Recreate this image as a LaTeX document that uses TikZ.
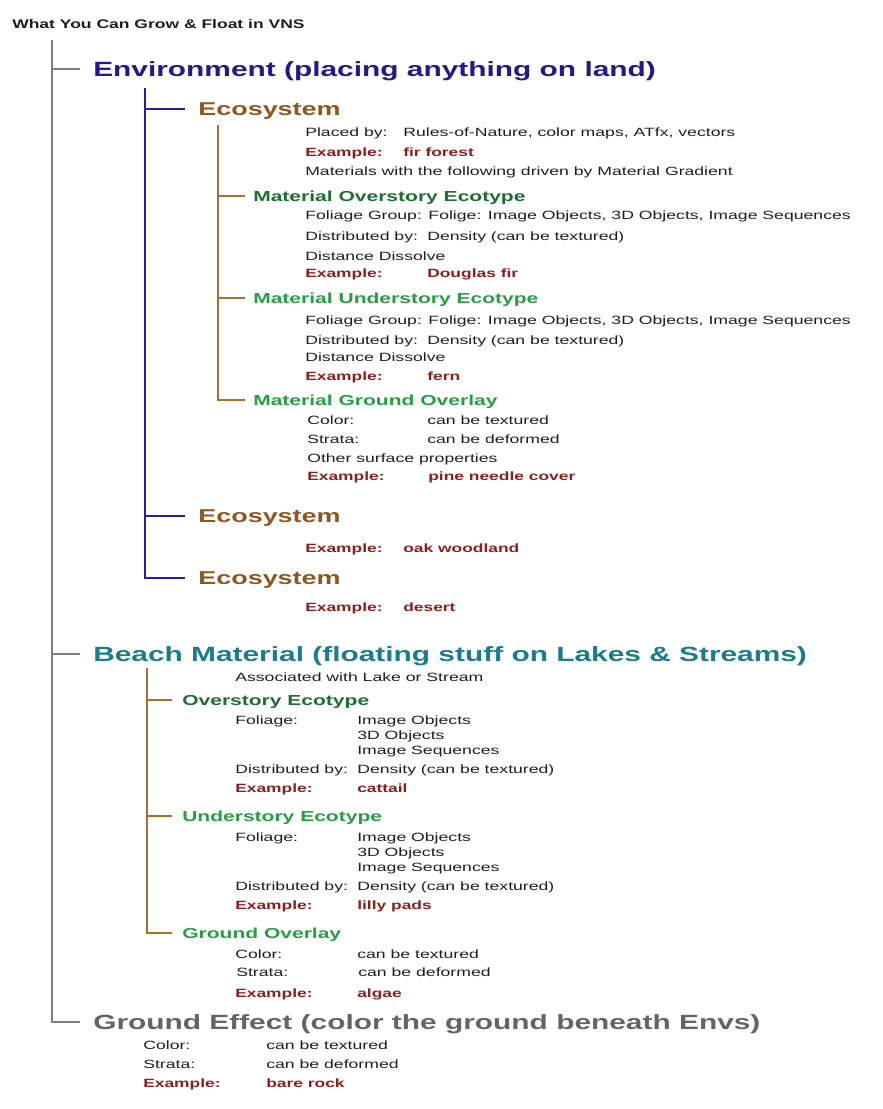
\documentclass[tikz,border=0pt]{standalone}
\usepackage{fontspec}
\setmainfont{Liberation Sans}
\definecolor{ink}{RGB}{30,30,30}
\definecolor{envblue}{RGB}{38,24,140}
\definecolor{lineblue}{RGB}{40,28,160}
\definecolor{ecobrown}{RGB}{140,88,30}
\definecolor{linebrown}{RGB}{170,112,45}
\definecolor{dkgreen}{RGB}{28,110,48}
\definecolor{ltgreen}{RGB}{38,158,68}
\definecolor{exred}{RGB}{140,30,30}
\definecolor{teal}{RGB}{26,124,140}
\definecolor{gtext}{RGB}{100,100,100}
\definecolor{gline}{RGB}{125,125,125}
\tikzset{
  txt/.style={anchor=west, inner sep=0pt, xscale=1.47, text=ink, text height=8.6pt, text depth=0pt,
    font=\fontsize{12}{14}\selectfont},
  ex/.style={txt, xscale=1.45/1.47, text=exred, font=\fontsize{12}{14}\selectfont\bfseries},
  head/.style={txt, xscale=1.45/1.47, text height=14.8pt, font=\fontsize{20.6}{24}\selectfont\bfseries},
  eco/.style={txt, xscale=1.45/1.47, text=ecobrown, text height=13.3pt, font=\fontsize{18.6}{22}\selectfont\bfseries},
  ecotype/.style={txt, xscale=1.45/1.47, text height=10.4pt, font=\fontsize{14.5}{17}\selectfont\bfseries},
  grayline/.style={draw=gline, line width=2.3pt},
  blueline/.style={draw=lineblue, line width=2.5pt},
  brownline/.style={draw=linebrown, line width=2pt}
}
\begin{document}
\begin{tikzpicture}[x=1pt,y=-1pt]
\useasboundingbox (0,0) rectangle (883,1109);
% title and main trunk
\node[txt, xscale=1.4/1.47, text height=9pt, font=\fontsize{12.5}{15}\selectfont\bfseries] (title) at (12,24) {What You Can Grow \& Float in VNS};
\coordinate (trunk) at (52,40);
\node[head, text=envblue] (env) at (93,69) {Environment (placing anything on land)};
\node[head, text=teal] (beach) at (93,654) {Beach Material (floating stuff on Lakes \& Streams)};
\node[head, text=gtext] (ground) at (93,1022) {Ground Effect (color the ground beneath Envs)};
\draw[grayline] (trunk) |- ([xshift=-13pt]ground.west);
\draw[grayline] (trunk |- env.west) -- ([xshift=-13pt]env.west);
\draw[grayline] (trunk |- beach.west) -- ([xshift=-13pt]beach.west);

% environment
\coordinate (envtrunk) at (145,88);
\node[eco] (eco1) at (198,109) {Ecosystem};
\node[eco] (eco2) at (198,516) {Ecosystem};
\node[eco] (eco3) at (198,578) {Ecosystem};
\draw[blueline] (envtrunk) |- ([xshift=-13pt]eco3.west);
\draw[blueline] (envtrunk |- eco1.west) -- ([xshift=-13pt]eco1.west);
\draw[blueline] (envtrunk |- eco2.west) -- ([xshift=-13pt]eco2.west);

\node[txt] (placed) at (305,132) {Placed by:};
\node[txt] (placedv) at (403,132) {Rules-of-Nature, color maps, ATfx, vectors};
\node[ex] (ex1) at (305,152) {Example:};
\node[ex] (ex1v) at (403,152) {fir forest};
\node[txt] (matl) at (305,171) {Materials with the following driven by Material Gradient};

\coordinate (ecotrunk) at (218,125);
\node[ecotype, text=dkgreen] (movr) at (253,196) {Material Overstory Ecotype};
\node[ecotype, text=ltgreen] (mund) at (253,298) {Material Understory Ecotype};
\node[ecotype, text=ltgreen] (mgnd) at (253,400) {Material Ground Overlay};
\draw[brownline] (ecotrunk) |- ([xshift=-8pt]mgnd.west);
\draw[brownline] (ecotrunk |- movr.west) -- ([xshift=-8pt]movr.west);
\draw[brownline] (ecotrunk |- mund.west) -- ([xshift=-8pt]mund.west);

\node[txt] (fol1) at (305,215) {Foliage Group: Folige: Image Objects, 3D Objects, Image Sequences};
\node[txt] (dist1) at (305,236) {Distributed by:};
\node[txt] (dist1v) at (427,236) {Density (can be textured)};
\node[txt] (diss1) at (305,256) {Distance Dissolve};
\node[ex] (ex2) at (305,273) {Example:};
\node[ex] (ex2v) at (427,273) {Douglas fir};

\node[txt] (fol2) at (305,320) {Foliage Group: Folige: Image Objects, 3D Objects, Image Sequences};
\node[txt] (dist2) at (305,340) {Distributed by:};
\node[txt] (dist2v) at (427,340) {Density (can be textured)};
\node[txt] (diss2) at (305,357) {Distance Dissolve};
\node[ex] (ex3) at (305,376) {Example:};
\node[ex] (ex3v) at (427,376) {fern};

\node[txt] (col1) at (307,420) {Color:};
\node[txt] (col1v) at (427,420) {can be textured};
\node[txt] (str1) at (307,439) {Strata:};
\node[txt] (str1v) at (427,439) {can be deformed};
\node[txt] (surf) at (307,458) {Other surface properties};
\node[ex] (ex4) at (307,476) {Example:};
\node[ex] (ex4v) at (428,476) {pine needle cover};

\node[ex] (ex5) at (305,548) {Example:};
\node[ex] (ex5v) at (403,548) {oak woodland};
\node[ex] (ex6) at (305,607) {Example:};
\node[ex] (ex6v) at (403,607) {desert};

% beach material
\node[txt] (assoc) at (235,677) {Associated with Lake or Stream};
\coordinate (beachtrunk) at (147,668);
\node[ecotype, text=dkgreen] (ovr) at (182,700) {Overstory Ecotype};
\node[ecotype, text=ltgreen] (und) at (182,816) {Understory Ecotype};
\node[ecotype, text=ltgreen] (gov) at (182,933) {Ground Overlay};
\draw[brownline] (beachtrunk) |- ([xshift=-10pt]gov.west);
\draw[brownline] (beachtrunk |- ovr.west) -- ([xshift=-10pt]ovr.west);
\draw[brownline] (beachtrunk |- und.west) -- ([xshift=-10pt]und.west);

\node[txt] (fol3) at (235,720) {Foliage:};
\node[txt] (fol3a) at (357,720) {Image Objects};
\node[txt] (fol3b) at (357,735) {3D Objects};
\node[txt] (fol3c) at (357,750) {Image Sequences};
\node[txt] (dist3) at (235,769) {Distributed by:};
\node[txt] (dist3v) at (357,769) {Density (can be textured)};
\node[ex] (ex7) at (235,788) {Example:};
\node[ex] (ex7v) at (357,788) {cattail};

\node[txt] (fol4) at (235,837) {Foliage:};
\node[txt] (fol4a) at (357,837) {Image Objects};
\node[txt] (fol4b) at (357,852) {3D Objects};
\node[txt] (fol4c) at (357,867) {Image Sequences};
\node[txt] (dist4) at (235,886) {Distributed by:};
\node[txt] (dist4v) at (357,886) {Density (can be textured)};
\node[ex] (ex8) at (235,905) {Example:};
\node[ex] (ex8v) at (357,905) {lilly pads};

\node[txt] (col2) at (235,954) {Color:};
\node[txt] (col2v) at (357,954) {can be textured};
\node[txt] (str2) at (236,972) {Strata:};
\node[txt] (str2v) at (358,972) {can be deformed};
\node[ex] (ex9) at (235,993) {Example:};
\node[ex] (ex9v) at (357,993) {algae};

% ground effect
\node[txt] (col3) at (143,1045) {Color:};
\node[txt] (col3v) at (266,1045) {can be textured};
\node[txt] (str3) at (143,1064) {Strata:};
\node[txt] (str3v) at (266,1064) {can be deformed};
\node[ex] (ex10) at (143,1083) {Example:};
\node[ex] (ex10v) at (266,1083) {bare rock};
\end{tikzpicture}
\end{document}
